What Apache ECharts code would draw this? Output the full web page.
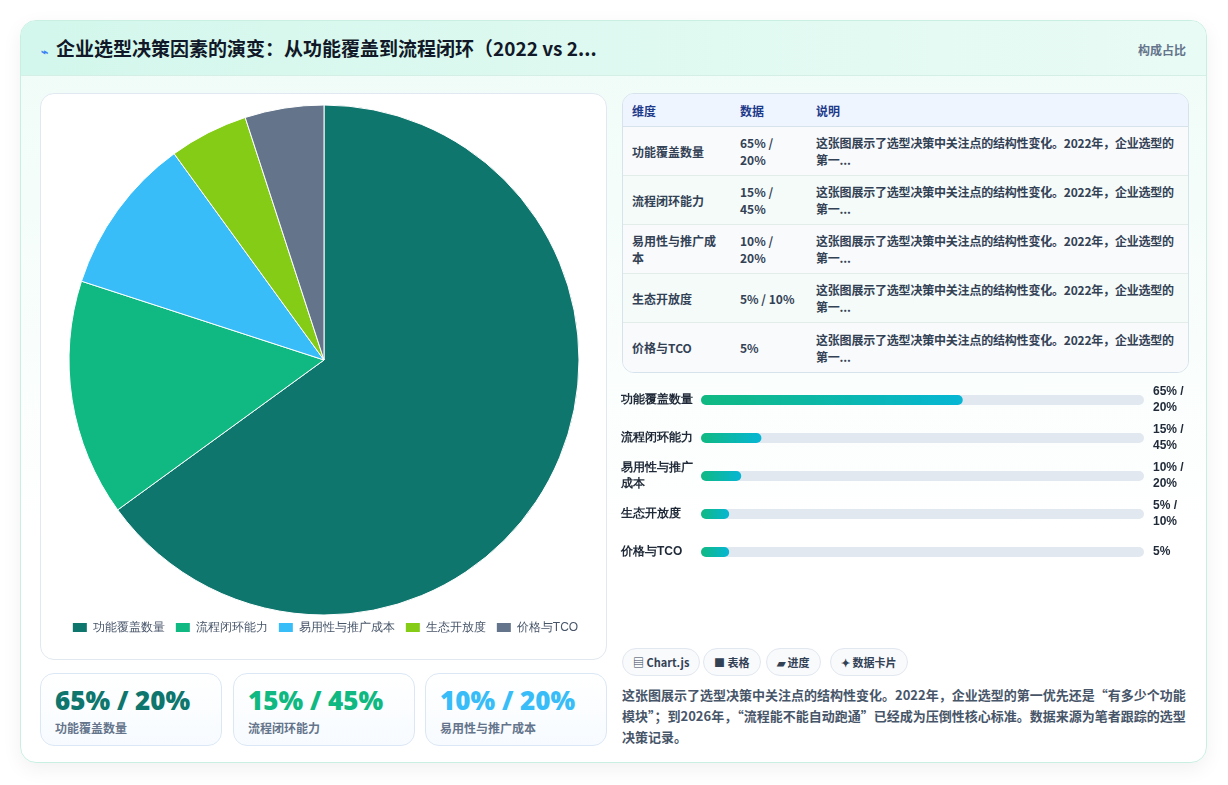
<!DOCTYPE html>
<html><head><meta charset="utf-8">
<script src="https://cdn.jsdelivr.net/npm/echarts@6/dist/echarts.min.js"></script>
<style>
*{box-sizing:border-box;margin:0;padding:0}
body{width:1228px;height:785px;background:#fff;font-family:"Noto Sans CJK SC","Noto Sans",sans-serif;position:relative;overflow:hidden}
#card{position:absolute;left:20px;top:20px;width:1187px;height:743px;border:1px solid #c9efe3;border-radius:16px;background:linear-gradient(180deg,#effcf7,#ffffff 70%);box-shadow:0 6px 20px rgba(0,0,0,0.06);overflow:hidden}
#hdr{position:absolute;left:0;top:0;width:100%;height:55px;background:linear-gradient(90deg,#d3f7ec,#e9fbf5);border-bottom:1px solid #d3efe6}
#title{position:absolute;left:20px;top:13px;font-size:19px;font-weight:700;color:#111827}
#title span{color:#3b82f6;font-size:12px;margin-right:8px}
#tag{position:absolute;right:20px;top:20px;font-size:12px;color:#64748b;font-weight:600}
.box{position:absolute;background:#fff;border:1px solid #e2e8f0;border-radius:14px}
#pieBox{left:19px;top:72px;width:567px;height:567px}
#pie{position:absolute;left:0;top:0;width:567px;height:567px}
.stat{top:652px;width:182px;height:73px;background:linear-gradient(180deg,#fff,#f7fbff);border-color:#dbe7f5}
.stat .v{position:absolute;left:14px;top:8px;font-size:26px;font-weight:800;font-family:"Open Sans","Noto Sans CJK SC",sans-serif}
.stat .l{position:absolute;left:14px;top:45px;font-size:12px;color:#64748b;font-weight:600}
table{position:absolute;left:601px;top:72px;width:567px;border-collapse:separate;border-spacing:0;border:1px solid #d6e2ec;border-radius:12px;overflow:hidden;font-size:12px;font-weight:600}
th{background:#eef5ff;color:#1e3a8a;text-align:left;font-weight:600;height:33px;padding:0 9px;border-bottom:1px solid #d6e2ec}
td{color:#334155;height:49px;padding:0 9px;line-height:17px;border-bottom:1px solid #e2ece9;background:#f4fbf9}
td.n{white-space:nowrap;letter-spacing:-0.2px}
tr:nth-child(even) td{background:#f8fafc}
tr:last-child td{border-bottom:none}
#prog{position:absolute;left:570px;top:360px;width:611px;height:190px}
.chip{position:absolute;top:627px;height:28px;border:1px solid #e2e8f0;border-radius:14px;background:#f8fafc;font-size:11px;font-weight:700;color:#334155;line-height:26px;padding:0 10px}
#desc{position:absolute;left:601px;top:663px;width:570px;font-size:13px;line-height:21px;color:#475569;font-weight:600}
</style></head><body>
<div id="card">
<div id="hdr"><div id="title"><span>⌁</span>企业选型决策因素的演变：从功能覆盖到流程闭环（2022 vs 2...</div><div id="tag">构成占比</div></div>
<div class="box" id="pieBox"><div id="pie"></div></div>
<div class="box stat" style="left:19px"><div class="v" style="color:#0f766e">65% / 20%</div><div class="l">功能覆盖数量</div></div>
<div class="box stat" style="left:212px"><div class="v" style="color:#10b981">15% / 45%</div><div class="l">流程闭环能力</div></div>
<div class="box stat" style="left:404px"><div class="v" style="color:#38bdf8">10% / 20%</div><div class="l">易用性与推广成本</div></div>
<table id="tbl"></table>
<div id="prog"></div>
<div class="chip" style="left:601px">▤ Chart.js</div>
<div class="chip" style="left:682px">■ 表格</div>
<div class="chip" style="left:745px">▰ 进度</div>
<div class="chip" style="left:809px">✦ 数据卡片</div>
<div id="desc">这张图展示了选型决策中关注点的结构性变化。2022年，企业选型的第一优先还是“有多少个功能模块”；到2026年，“流程能不能自动跑通”已经成为压倒性核心标准。数据来源为笔者跟踪的选型决策记录。</div>
</div>
<script>
const categories=['功能覆盖数量','流程闭环能力','易用性与推广成本','生态开放度','价格与TCO'];
const values2022=[65,15,10,5,5];
const dataLabels=['65% / 20%','15% / 45%','10% / 20%','5% / 10%','5%'];
const colors=['#0f766e','#10b981','#38bdf8','#84cc16','#64748b'];
const note='这张图展示了选型决策中关注点的结构性变化。2022年，企业选型的第一...';

let h='<tr><th style="width:108px">维度</th><th style="width:76px">数据</th><th>说明</th></tr>';
categories.forEach((c,i)=>{h+=`<tr><td>${c}</td><td>${dataLabels[i].replace(' / ',' /<br>').replace('5% /<br>10%','5% / 10%')}</td><td class="n">${note.replace('第一...','<br>第一...')}</td></tr>`;});
document.getElementById('tbl').innerHTML=h;

echarts.init(document.getElementById('pie')).setOption({
  animation:false,
  legend:{bottom:22,itemWidth:16,itemHeight:11,itemGap:9,icon:'rect',textStyle:{color:'#475569',fontSize:12,fontWeight:500}},
  series:[{type:'pie',radius:[0,255],center:[283,266],startAngle:90,clockwise:true,label:{show:false},
    itemStyle:{borderColor:'#fff',borderWidth:1},
    data:categories.map((c,i)=>({name:c,value:values2022[i],itemStyle:{color:colors[i]}}))}]
});

echarts.init(document.getElementById('prog')).setOption({
  animation:false,
  grid:{left:110,right:58,top:0,bottom:0},
  xAxis:{type:'value',min:0,max:110,show:false},
  yAxis:[{type:'category',inverse:true,data:categories,axisLine:{show:false},axisTick:{show:false},
    axisLabel:{color:'#1f2937',fontSize:12,fontWeight:600,align:'left',margin:80,width:74,overflow:'break',lineHeight:16,
      formatter:v=>v==='易用性与推广成本'?'易用性与推广\n成本':v}},
    {type:'category',inverse:true,data:dataLabels,position:'right',axisLine:{show:false},axisTick:{show:false},
     axisLabel:{color:'#1f2937',fontSize:12,fontWeight:'bold',align:'left',margin:9,lineHeight:16,
      formatter:v=>v.indexOf(' / ')>0?v.replace(' / ',' /\n'):v}}],
  series:[{type:'bar',data:values2022.map(v=>Math.max(v,7)),barWidth:10,
    showBackground:true,backgroundStyle:{color:'#e2e8f0',borderRadius:5},
    itemStyle:{borderRadius:5,color:new echarts.graphic.LinearGradient(0,0,1,0,[{offset:0,color:'#10b981'},{offset:1,color:'#06b6d4'}])}}]
});
</script>
</body></html>
